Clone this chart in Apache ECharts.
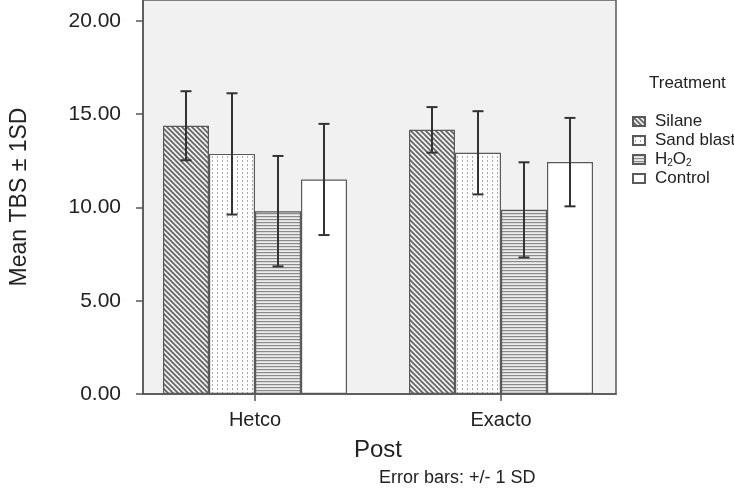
<!DOCTYPE html>
<html>
<head>
<meta charset="utf-8">
<script src="https://cdn.jsdelivr.net/npm/echarts@6/dist/echarts.min.js"></script>
<style>html,body{margin:0;padding:0;background:#fff}#c{width:734px;height:491px}</style>
</head>
<body>
<div id="c"></div>
<script>
const categories = ['Hetco', 'Exacto'];
const treatments = ['Silane', 'Sand blast', 'H2O2', 'Control'];
const silaneMean = [14.38, 14.16];
const sandBlastMean = [12.87, 12.93];
const h2o2Mean = [9.80, 9.87];
const controlMean = [11.50, 12.43];
const silaneSD = [1.85, 1.22];
const sandBlastSD = [3.25, 2.23];
const h2o2SD = [2.96, 2.55];
const controlSD = [2.98, 2.37];
const yTickLabels = ['0.00', '5.00', '10.00', '15.00', '20.00'];

const means = [silaneMean, sandBlastMean, h2o2Mean, controlMean];
const sds = [silaneSD, sandBlastSD, h2o2SD, controlSD];

function makeTile(w, h, draw) {
  const c = document.createElement('canvas');
  c.width = w; c.height = h;
  const g = c.getContext('2d');
  draw(g, w, h);
  return { image: c, repeat: 'repeat' };
}
const patSilane = makeTile(5, 5, (g, w, h) => {
  g.fillStyle = '#f0f0f0'; g.fillRect(0, 0, w, h);
  g.strokeStyle = '#646464'; g.lineWidth = 1.7;
  g.beginPath();
  g.moveTo(-1, -1); g.lineTo(w + 1, h + 1);
  g.moveTo(-1, h - 1); g.lineTo(1, h + 1);
  g.moveTo(w - 1, -1); g.lineTo(w + 1, 1);
  g.stroke();
});
const patSand = makeTile(5, 4, (g, w, h) => {
  g.fillStyle = '#ffffff'; g.fillRect(0, 0, w, h);
  g.fillStyle = '#a8a8a8'; g.fillRect(2, 0, 1, 2);
});
const patH2O2 = makeTile(4, 3, (g, w, h) => {
  g.fillStyle = '#ececec'; g.fillRect(0, 0, w, h);
  g.fillStyle = '#8a8a8a'; g.fillRect(0, 0, w, 1.2);
});
const patControl = '#ffffff';
const patterns = [patSilane, patSand, patH2O2, patControl];

const yMax = 21.12;
const barW = 46;
const font = "'Liberation Sans', Arial, sans-serif";

const barSeries = treatments.map((name, k) => ({
  name: name,
  type: 'bar',
  xAxisIndex: 1, yAxisIndex: 1,
  barWidth: barW,
  barGap: '0%',
  data: means[k],
  itemStyle: { color: patterns[k], borderColor: '#5a5a5a', borderWidth: 1.2 },
  emphasis: { disabled: true },
  z: 3
}));

const errData = [];
categories.forEach((c, i) => {
  treatments.forEach((t, k) => {
    errData.push([i, k, means[k][i] - sds[k][i], means[k][i] + sds[k][i]]);
  });
});

const errSeries = {
  type: 'custom',
  xAxisIndex: 1, yAxisIndex: 1,
  z: 10,
  silent: true,
  encode: { x: 0, y: [2, 3] },
  data: errData,
  renderItem: function (params, api) {
    const cat = api.value(0), k = api.value(1), lo = api.value(2), hi = api.value(3);
    const pLo = api.coord([cat, lo]);
    const pHi = api.coord([cat, hi]);
    const x = pLo[0] + (k - 1.5) * barW;
    const cap = 5.5;
    const st = { stroke: '#333', lineWidth: 2 };
    return {
      type: 'group',
      children: [
        { type: 'line', shape: { x1: x, y1: pLo[1], x2: x, y2: pHi[1] }, style: st },
        { type: 'line', shape: { x1: x - cap, y1: pHi[1], x2: x + cap, y2: pHi[1] }, style: st },
        { type: 'line', shape: { x1: x - cap, y1: pLo[1], x2: x + cap, y2: pLo[1] }, style: st }
      ]
    };
  }
};

const chart = echarts.init(document.getElementById('c'), null, { renderer: 'canvas' });
chart.setOption({
  animation: false,
  backgroundColor: '#ffffff',
  textStyle: { fontFamily: font },
  grid: [
    { left: 139, right: 118, top: -1, bottom: 97, show: true, backgroundColor: '#f1f1f1', borderColor: '#5a5a5a', borderWidth: 1.5 },
    { left: 132, right: 110, top: -1, bottom: 97 }
  ],
  xAxis: [
    { type: 'category', gridIndex: 0, data: categories,
      axisLine: { show: true, lineStyle: { color: '#555', width: 1.5 } },
      axisTick: { show: false }, axisLabel: { show: false } },
    { type: 'category', gridIndex: 1, data: categories,
      axisLine: { show: false },
      axisTick: { show: true, alignWithLabel: true, length: 7, lineStyle: { color: '#555', width: 1.5 } },
      axisLabel: { color: '#222', fontSize: 20, margin: 16, fontFamily: font },
      name: 'Post', nameLocation: 'middle', nameGap: 44,
      nameTextStyle: { color: '#222', fontSize: 24, fontFamily: font } }
  ],
  yAxis: [
    { type: 'value', gridIndex: 0, min: 0, max: yMax, interval: 5,
      axisLine: { show: true, lineStyle: { color: '#555', width: 1.5 } },
      axisTick: { show: true, length: 7, lineStyle: { color: '#555', width: 1.5 } },
      splitLine: { show: false },
      axisLabel: { color: '#222', fontSize: 21, margin: 22, fontFamily: font, showMaxLabel: false,
        formatter: function (v) { const i = Math.round(v / 5); return (Math.abs(v - i * 5) < 1e-6 && yTickLabels[i]) ? yTickLabels[i] : ''; } },
      name: 'Mean TBS \u00B1 1SD', nameLocation: 'middle', nameGap: 112,
      nameTextStyle: { color: '#222', fontSize: 23, fontFamily: font } },
    { type: 'value', gridIndex: 1, min: 0, max: yMax, show: false }
  ],
  legend: {
    data: treatments,
    orient: 'vertical',
    left: 627, top: 108,
    itemWidth: 12, itemHeight: 9, itemGap: 2,
    icon: 'rect',
    selectedMode: false,
    formatter: function (n) { return n === 'H2O2' ? 'H{s|2}O{s|2}' : n; },
    textStyle: { color: '#222', fontSize: 17, lineHeight: 17, fontFamily: font, padding: [0, 0, 0, 5],
      rich: { s: { fontSize: 10, verticalAlign: 'bottom', lineHeight: 17, color: '#222', fontFamily: font } } }
  },
  graphic: [
    { type: 'text', left: 649, top: 75, style: { text: 'Treatment', fontSize: 17, fill: '#222', fontFamily: font } },
    { type: 'text', left: 379, top: 469, style: { text: 'Error bars: +/- 1 SD', fontSize: 18, fill: '#222', fontFamily: font } }
  ],
  series: barSeries.concat([errSeries])
});
</script>
</body>
</html>
